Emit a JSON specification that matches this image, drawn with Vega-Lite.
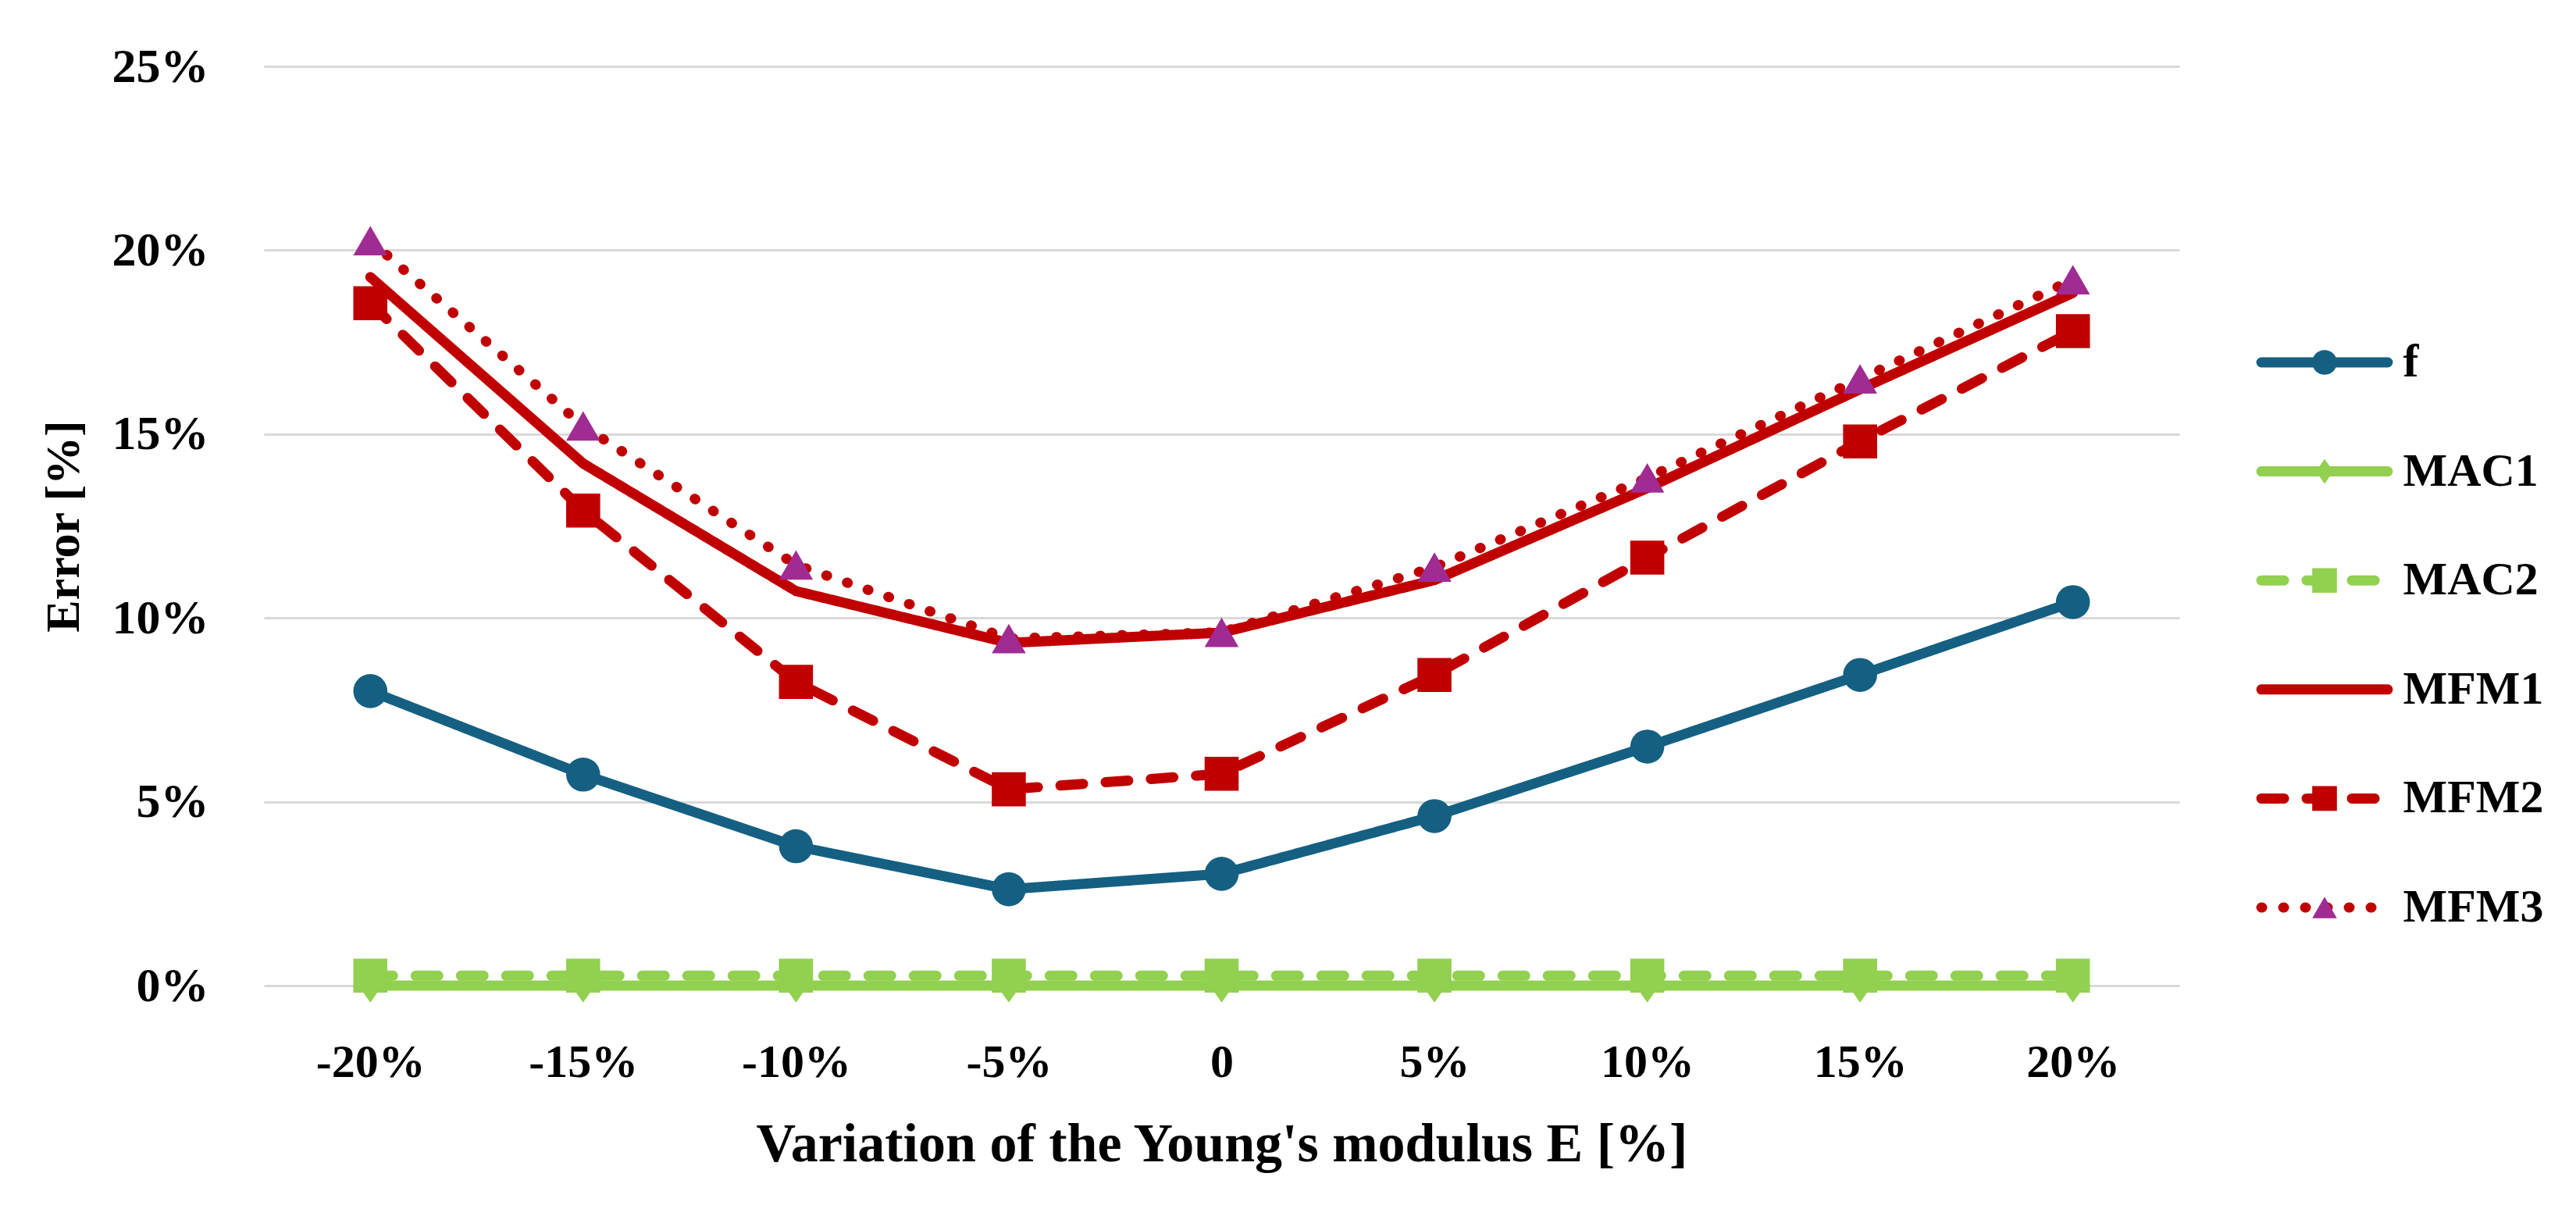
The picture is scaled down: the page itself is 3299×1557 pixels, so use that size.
{
  "$schema": "https://vega.github.io/schema/vega-lite/v6.json",
  "width": 2453,
  "height": 1177,
  "autosize": {"type": "none"},
  "padding": {"left": 338, "top": 85, "right": 508, "bottom": 295},
  "background": "white",
  "config": {"view": {"stroke": null}, "font": "Liberation Serif"},
  "data": {
    "values": [
      {"E": "-20%", "series": "f", "value": 8.01},
      {"E": "-15%", "series": "f", "value": 5.74},
      {"E": "-10%", "series": "f", "value": 3.79},
      {"E": "-5%", "series": "f", "value": 2.62},
      {"E": "0", "series": "f", "value": 3.04},
      {"E": "5%", "series": "f", "value": 4.61},
      {"E": "10%", "series": "f", "value": 6.5},
      {"E": "15%", "series": "f", "value": 8.45},
      {"E": "20%", "series": "f", "value": 10.43},
      {"E": "-20%", "series": "MAC1", "value": 0},
      {"E": "-15%", "series": "MAC1", "value": 0},
      {"E": "-10%", "series": "MAC1", "value": 0},
      {"E": "-5%", "series": "MAC1", "value": 0},
      {"E": "0", "series": "MAC1", "value": 0},
      {"E": "5%", "series": "MAC1", "value": 0},
      {"E": "10%", "series": "MAC1", "value": 0},
      {"E": "15%", "series": "MAC1", "value": 0},
      {"E": "20%", "series": "MAC1", "value": 0},
      {"E": "-20%", "series": "MAC2", "value": 0.27},
      {"E": "-15%", "series": "MAC2", "value": 0.27},
      {"E": "-10%", "series": "MAC2", "value": 0.27},
      {"E": "-5%", "series": "MAC2", "value": 0.27},
      {"E": "0", "series": "MAC2", "value": 0.27},
      {"E": "5%", "series": "MAC2", "value": 0.27},
      {"E": "10%", "series": "MAC2", "value": 0.27},
      {"E": "15%", "series": "MAC2", "value": 0.27},
      {"E": "20%", "series": "MAC2", "value": 0.27},
      {"E": "-20%", "series": "MFM1", "value": 19.27},
      {"E": "-15%", "series": "MFM1", "value": 14.2},
      {"E": "-10%", "series": "MFM1", "value": 10.73},
      {"E": "-5%", "series": "MFM1", "value": 9.32},
      {"E": "0", "series": "MFM1", "value": 9.6},
      {"E": "5%", "series": "MFM1", "value": 11.03},
      {"E": "10%", "series": "MFM1", "value": 13.53},
      {"E": "15%", "series": "MFM1", "value": 16.22},
      {"E": "20%", "series": "MFM1", "value": 18.84},
      {"E": "-20%", "series": "MFM2", "value": 18.56},
      {"E": "-15%", "series": "MFM2", "value": 12.92},
      {"E": "-10%", "series": "MFM2", "value": 8.26},
      {"E": "-5%", "series": "MFM2", "value": 5.34},
      {"E": "0", "series": "MFM2", "value": 5.76},
      {"E": "5%", "series": "MFM2", "value": 8.45},
      {"E": "10%", "series": "MFM2", "value": 11.64},
      {"E": "15%", "series": "MFM2", "value": 14.8},
      {"E": "20%", "series": "MFM2", "value": 17.8},
      {"E": "-20%", "series": "MFM3", "value": 20.26},
      {"E": "-15%", "series": "MFM3", "value": 15.22},
      {"E": "-10%", "series": "MFM3", "value": 11.44},
      {"E": "-5%", "series": "MFM3", "value": 9.44},
      {"E": "0", "series": "MFM3", "value": 9.61},
      {"E": "5%", "series": "MFM3", "value": 11.38},
      {"E": "10%", "series": "MFM3", "value": 13.81},
      {"E": "15%", "series": "MFM3", "value": 16.5},
      {"E": "20%", "series": "MFM3", "value": 19.2}
    ]
  },
  "encoding": {
    "x": {
      "field": "E",
      "type": "ordinal",
      "scale": {"type": "point", "padding": 0.5, "domain": ["-20%", "-15%", "-10%", "-5%", "0", "5%", "10%", "15%", "20%"]},
      "axis": {
        "title": "Variation of the Young's modulus E [%]",
        "labelAngle": 0,
        "domain": false,
        "ticks": false,
        "tickSize": 0,
        "grid": false,
        "labelFont": "Liberation Serif",
        "labelFontWeight": "bold",
        "labelFontSize": 60,
        "labelColor": "#000000",
        "labelPadding": 69,
        "titleFont": "Liberation Serif",
        "titleFontWeight": "bold",
        "titleFontSize": 70,
        "titleColor": "#000000",
        "titlePadding": 41
      }
    },
    "y": {
      "field": "value",
      "type": "quantitative",
      "scale": {"domain": [0, 25], "nice": false},
      "axis": {
        "title": "Error [%]",
        "values": [0, 5, 10, 15, 20, 25],
        "labelExpr": "datum.value + '%'",
        "domain": false,
        "ticks": false,
        "tickSize": 0,
        "grid": true,
        "gridColor": "#D9D9D9",
        "gridWidth": 3,
        "labelFont": "Liberation Serif",
        "labelFontWeight": "bold",
        "labelFontSize": 62,
        "labelColor": "#000000",
        "labelPadding": 71,
        "titleFont": "Liberation Serif",
        "titleFontWeight": "bold",
        "titleFontSize": 62,
        "titleColor": "#000000",
        "titlePadding": 30
      }
    }
  },
  "layer": [
    {
      "mark": {"type": "line", "strokeWidth": 13, "strokeCap": "round", "strokeJoin": "round"},
      "encoding": {
        "stroke": {
          "field": "series",
          "type": "nominal",
          "scale": {
            "domain": ["f", "MAC1", "MAC2", "MFM1", "MFM2", "MFM3"],
            "range": ["#156082", "#92D050", "#92D050", "#C00000", "#C00000", "#C00000"]
          },
          "legend": {
            "orient": "none",
            "legendX": 2609,
            "legendY": 349,
            "direction": "vertical",
            "title": null,
            "padding": 0,
            "symbolType": "M-5.12,0L5.12,0",
            "symbolSize": 1000,
            "symbolStrokeWidth": 13,
            "labelFont": "Liberation Serif",
            "labelFontWeight": "bold",
            "labelFontSize": 60,
            "labelColor": "#000000",
            "labelLimit": 600,
            "labelOffset": 70.5,
            "rowPadding": 79.6,
            "encode": {"symbols": {"update": {"strokeCap": {"value": "round"}, "fill": {"value": "transparent"}}}}
          }
        },
        "strokeDash": {
          "field": "series",
          "type": "nominal",
          "scale": {
            "domain": ["f", "MAC1", "MAC2", "MFM1", "MFM2", "MFM3"],
            "range": [[1, 0], [1, 0], [29, 29], [1, 0], [29, 29], [1, 27]]
          },
          "legend": {
            "orient": "none",
            "legendX": 2609,
            "legendY": 349,
            "direction": "vertical",
            "title": null,
            "padding": 0,
            "symbolType": "M-5.12,0L5.12,0",
            "symbolSize": 1000,
            "symbolStrokeWidth": 13,
            "labelFont": "Liberation Serif",
            "labelFontWeight": "bold",
            "labelFontSize": 60,
            "labelColor": "#000000",
            "labelLimit": 600,
            "labelOffset": 70.5,
            "rowPadding": 79.6,
            "encode": {"symbols": {"update": {"strokeCap": {"value": "round"}, "fill": {"value": "transparent"}}}}
          }
        }
      }
    },
    {
      "mark": {"type": "point", "filled": true, "size": 1900, "opacity": 1, "strokeWidth": 0},
      "encoding": {
        "fill": {
          "field": "series",
          "type": "nominal",
          "sort": ["f", "MAC1", "MAC2", "MFM1", "MFM2", "MFM3"],
          "scale": {"range": ["#156082", "#92D050", "#92D050", "transparent", "#C00000", "#A02B93"]},
          "legend": null
        },
        "shape": {
          "field": "series",
          "type": "nominal",
          "sort": ["f", "MAC1", "MAC2", "MFM1", "MFM2", "MFM3"],
          "scale": {"range": ["circle", "M0,-1L0.7,0L0,1L-0.7,0Z", "square", "circle", "square", "triangle-up"]},
          "legend": {
            "orient": "none",
            "legendX": 2609,
            "legendY": 349,
            "direction": "vertical",
            "title": null,
            "padding": 0,
            "symbolSize": 1000,
            "symbolStrokeWidth": 0,
            "symbolFillColor": {"expr": "datum.value === 'f' ? '#156082' : datum.value === 'MFM3' ? '#A02B93' : datum.value === 'MFM2' ? '#C00000' : datum.value === 'MFM1' ? 'transparent' : '#92D050'"},
            "symbolStrokeColor": "transparent",
            "symbolOpacity": 1,
            "labelFont": "Liberation Serif",
            "labelFontWeight": "bold",
            "labelFontSize": 60,
            "labelLimit": 600,
            "labelOpacity": 0,
            "labelOffset": 70.5,
            "rowPadding": 79.6
          }
        }
      }
    }
  ]
}
